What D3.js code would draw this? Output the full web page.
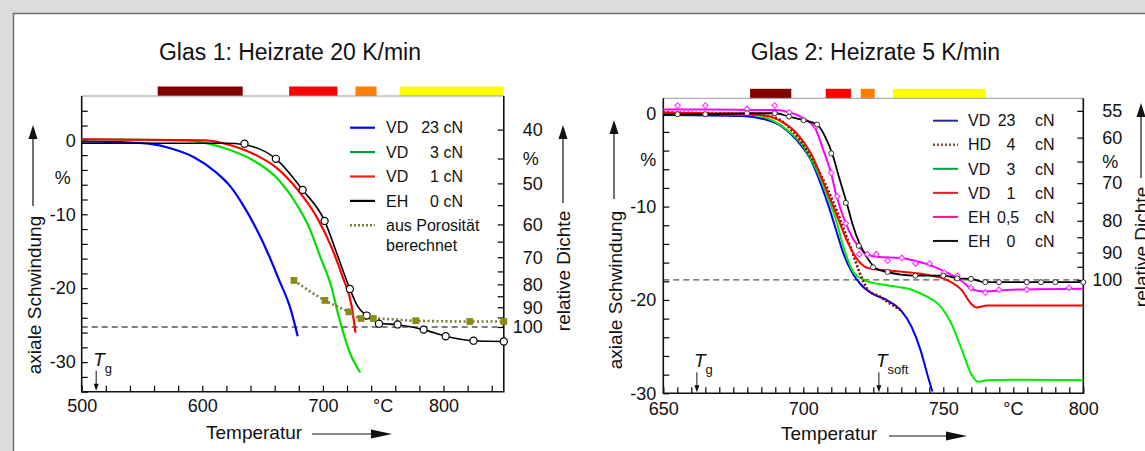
<!DOCTYPE html>
<html lang="de">
<head>
<meta charset="UTF-8">
<title>Glas 1 / Glas 2 - axiale Schwindung</title>
<script src="https://d3js.org/d3.v7.min.js"></script>
<style>
  body { margin: 0; background: #dcdcdc; }
  svg { display: block; }
  text { font-family: "Liberation Sans", Arial, sans-serif; fill: #111; }
  .tick line { stroke: #000; stroke-width: 1.2px; }
  .tick text { font-size: 18px; }
  .legend text { font-size: 16px; }
  .title { font-size: 23px; }
  .axis-title { font-size: 19px; }
</style>
</head>
<body>
<svg width="1145" height="451"></svg>
<script>
// ---------- Glas 1: Heizrate 20 K/min ----------
const g1Blue = [[500,-0.15],[540,-0.3],[555.6,-0.45],[574.2,-1.1],[592.7,-2.25],[611.2,-4.3],[623.6,-6.3],
  [632.8,-8.5],[645.2,-12.1],[654.5,-15.3],[663.7,-18.9],[673,-22.7],[679.1,-26.5]];
const g1Green = [[500,0.15],[586.5,0],[605,-0.45],[623.6,-1.35],[642.1,-2.7],[660.6,-4.9],[676,-8.1],
  [688.4,-11.7],[697.7,-15.7],[707,-19.8],[713.1,-23.8],[722.3,-28.7],[731,-31.4]];
const g1Red = [[500,0.15],[602,0],[623.6,-0.67],[642.1,-1.8],[660.6,-3.6],[679.1,-6.7],[694.6,-10.3],
  [707,-14.4],[716.2,-18.4],[723.9,-22.5],[727,-26.0]];
const g1Black = [[500,-0.4],[620,-0.4],[635,-0.6],[661,-2.5],[683.2,-6.7],[701.4,-10.9],[712,-15.5],
  [722.4,-20.1],[729,-22.5],[736.3,-23.7],[746.5,-24.7],[761.9,-24.95],[783.5,-25.6],[801.8,-26.5],
  [824.9,-27.1],[850,-27.2]];
const g1BlackPts = [[635,-0.45],[661,-2.5],[683.2,-6.7],[701.4,-10.9],[722.4,-20.1],[736.3,-23.7],
  [746.5,-24.8],[761.9,-24.9],[783.5,-25.6],[801.8,-26.5],[824.9,-27.1],[850,-27.2]];
const g1Poro = [[676,-18.95],[701.7,-21.65],[721.5,-23.2],[731.6,-24.1],[741.8,-24.1],[777,-24.4],
  [821.8,-24.5],[850,-24.5]];
const g1Dense100 = -25.25;                 // Schwindung bei 100 % Dichte
const g1Bars = [[563,633.5],[672,712],[727,744.5],[763.5,850]];
const g1Tg = 512;
const g1Legend = [['VD','23 cN'],['VD','3 cN'],['VD','1 cN'],['EH','0 cN']];
const g1PoroLegend = ['aus Porosität','berechnet'];
const g1XLabels = [500,600,700,800];
const g1YLabels = [0,-10,-20,-30];
const g1RhoTicks = [40,45,50,55,60,65,70,75,80,85,90,95,100];
const g1RhoLabels = ['40','%','50','','60','','70','','80','','90','','100'];

// ---------- Glas 2: Heizrate 5 K/min ----------
const g2Blue = [[650,-0.18],[678.3,-0.3],[687.3,-0.75],[692.4,-1.43],[697.6,-2.86],[702.7,-5],[706.6,-7.86],
  [709.1,-10],[711.7,-12.5],[714.3,-15],[717.5,-17.1],[720.7,-18.4],[724.5,-19.3],[729.7,-20],
  [734.8,-21.1],[738.7,-22.9],[741.9,-25.4],[744.5,-28.2],[746.1,-29.8]];
const g2HD = [[650,0.07],[682,-0.1],[690.5,-0.54],[696.3,-1.96],[702.7,-4.64],[710.4,-9.29],[716.8,-14.3],
  [720.7,-17.5],[723.3,-19],[727.1,-19.6],[731,-20.4],[734.8,-21.1]];
const g2Green = [[650,0],[682.1,-0.18],[688.6,-0.71],[695,-1.96],[700.1,-3.57],[705.3,-6.43],[709.1,-9.29],
  [711.7,-11.43],[714.3,-14.3],[718.1,-17.1],[722,-17.9],[727.1,-18.3],[733.5,-18.6],[738.7,-18.9],
  [743.8,-19.6],[749,-20.7],[752.8,-22.5],[756.7,-25.4],[759.9,-27.9],[762.5,-28.75],[765.7,-28.6],
  [774.7,-28.55],[800,-28.6]];
const g2Red = [[650,0.07],[684.7,-0.18],[691.1,-0.71],[697.6,-2.14],[702.7,-4.29],[707.8,-7.86],[711.7,-10.7],
  [715.5,-13.6],[719.4,-15.7],[723.3,-16.6],[728.4,-16.8],[736.1,-17],[743.8,-17.3],[751.5,-17.9],
  [756.7,-19],[759.9,-20.4],[761.8,-20.8],[765.7,-20.6],[800,-20.6]];
const g2Magenta = [[650,0.4],[689.8,0.35],[695,0.1],[700,-0.54],[704.2,-1.6],[707.1,-3.9],[709.9,-6.4],
  [711.9,-8.9],[714.9,-11.6],[718.1,-13.6],[720.7,-14.6],[723.3,-15.2],[727.1,-15.4],[734.8,-15.5],
  [741.2,-15.9],[746.4,-16.4],[751.5,-17.1],[756.7,-18.0],[760.5,-18.9],[764.4,-19.1],[774.7,-18.9],
  [800,-18.8]];
const g2MagentaPts = [[655.1,0.82],[665,0.82],[679.9,0.46],[689.8,0.82],[695,0.1],[704.6,-1.4],[710,-6.4],
  [712.1,-8.9],[715.2,-11.8],[720,-15.1],[722.9,-15.1],[726.1,-15.1],[730.1,-15.8],[735.2,-15.5],
  [740.1,-16.1],[745.1,-16.1],[750.3,-17.1],[755,-17.4],[759.9,-18.7],[765,-19.2],[769.9,-18.9],
  [779.8,-18.9],[794.9,-18.7]];
const g2Black = [[650,-0.15],[665,-0.1],[680,0],[690,0],[694.9,-0.36],[700.1,-0.75],[704.9,-1.2],
  [707.8,-2.5],[710.4,-4.4],[713,-7.1],[715.5,-9.6],[717.5,-11.8],[720,-13.9],[723.3,-15.7],
  [725.8,-16.6],[729.7,-17.0],[740,-17.4],[750.3,-17.4],[755.4,-17.7],[759.9,-17.75],[765,-18.1],[800,-18.1]];
const g2BlackPts = [[655.1,-0.11],[665,-0.11],[679.9,0],[689.8,0],[694.9,-0.36],[700.1,-0.75],[704.9,-1.2],
  [710,-4.3],[715.2,-9.6],[719.8,-14.2],[724.9,-16.5],[730.1,-17.0],[740,-17.4],[750,-17.4],[755,-17.7],
  [759.9,-17.75],[765,-18.1],[769.9,-18.1],[779.8,-18.1],[784.9,-18.1],[790,-18.1],[800,-18.1]];
const g2Dense100 = -17.86;
const g2Bars = [[681,695.7],[708,717],[720.5,725.5],[732,765.2]];
const g2Tg = 662;
const g2Tsoft = 727;
const g2Legend = [['VD','23'],['HD','4'],['VD','3'],['VD','1'],['EH','0,5'],['EH','0']];
const g2XLabels = [650,700,750,800];
const g2YLabels = [0,-10,-20,-30];
const g2RhoTicks = [55,60,65,70,75,80,85,90,95,100];
const g2RhoLabels = ['55','60','%','70','','80','','90','','100'];

// ---------- styles ----------
const barColors = ['#800000','#ff0000','#ff8000','#ffff00'];

const svg = d3.select('svg');
svg.append('rect').attr('width', 1145).attr('height', 451).attr('fill', '#dcdcdc');
svg.append('rect').attr('x', 13.5).attr('y', 13.5).attr('width', 1200).attr('height', 500)
  .attr('fill', '#fff').attr('stroke', '#6e6e6e').attr('stroke-width', 1.5);

// Dichte -> Schwindung (isotrope Schwindung, 100 % Dichte bei s100)
function rhoToS(rho, s100) {
  const rho0 = 100 * Math.pow(1 + s100 / 100, 3);
  return 100 * (Math.cbrt(rho0 / rho) - 1);
}

function arrowUp(g, x, yTop, yBottom) {
  g.append('line').attr('x1', x).attr('x2', x).attr('y1', yTop + 10).attr('y2', yBottom)
    .attr('stroke', '#111').attr('stroke-width', 1.2);
  g.append('path').attr('d', `M${x},${yTop}L${x - 4.5},${yTop + 14}L${x + 4.5},${yTop + 14}Z`).attr('fill', '#111');
}

function arrowRight(g, x1, x2, y) {
  g.append('line').attr('x1', x1).attr('x2', x2 - 10).attr('y1', y).attr('y2', y)
    .attr('stroke', '#111').attr('stroke-width', 1.2);
  g.append('path').attr('d', `M${x2},${y}L${x2 - 21},${y - 4.5}L${x2 - 21},${y + 4.5}Z`).attr('fill', '#111');
}

function tempMark(g, x, yAxis, sub) {
  const t = g.append('text').attr('x', x - 3).attr('y', yAxis - 26).attr('font-size', 19);
  t.append('tspan').attr('font-style', 'italic').text('T');
  t.append('tspan').attr('dy', 7).attr('font-size', 13).text(sub);
  g.append('line').attr('x1', x).attr('x2', x).attr('y1', yAxis - 21).attr('y2', yAxis - 5)
    .attr('stroke', '#111').attr('stroke-width', 1);
  g.append('path').attr('d', `M${x},${yAxis - 1}L${x - 2.5},${yAxis - 8}L${x + 2.5},${yAxis - 8}Z`).attr('fill', '#111');
}

function drawPanel(p) {
  const x = d3.scaleLinear().domain(p.xDomain).range([p.x0, p.x1]);
  const y = d3.scaleLinear().domain(p.yDomain).range([p.y1, p.y0]);
  const g = svg.append('g');

  // title
  g.append('text').attr('class', 'title').attr('x', p.titleX).attr('y', 59.5)
    .attr('text-anchor', 'middle').text(p.title);

  // Farbbalken
  g.selectAll('rect.bar').data(p.bars).join('rect').attr('class', 'bar')
    .attr('x', d => x(d[0])).attr('width', d => x(d[1]) - x(d[0]))
    .attr('y', p.y0 - 9.5).attr('height', 9.5)
    .attr('fill', (d, i) => barColors[i]);

  // 100 % Dichte
  g.append('line').attr('x1', p.x0).attr('x2', p.x1)
    .attr('y1', y(p.dense100)).attr('y2', y(p.dense100))
    .attr('stroke', '#555').attr('stroke-width', 1.3).attr('stroke-dasharray', '6,4');

  // axes
  const axL = d3.axisLeft(y).tickValues(d3.range(p.yDomain[0], p.yDomain[1], 2))
    .tickSize(-6).tickSizeOuter(0).tickPadding(p.yPad)
    .tickFormat(d => p.yLabels.includes(d) ? String(d) : '');
  g.append('g').attr('transform', `translate(${p.x0},0)`).call(axL).call(a => a.select('.domain').remove());

  const axB = d3.axisBottom(x).tickValues(d3.range(p.xDomain[0], p.xDomain[1] + 0.01, p.xStep))
    .tickSize(-6).tickSizeOuter(0).tickPadding(p.xPad)
    .tickFormat(d => p.xLabels.includes(d) ? String(d) : '');
  g.append('g').attr('transform', `translate(0,${p.y1})`).call(axB).call(a => a.select('.domain').remove());
  g.append('text').attr('x', x(p.degreeAt)).attr('y', p.y1 + p.xPad).attr('dy', '0.71em')
    .attr('text-anchor', 'middle').attr('font-size', 18).text('°C');

  const rhoS = p.rhoTicks.map(r => rhoToS(r, p.dense100));
  const axR = d3.axisRight(y).tickValues(rhoS).tickSize(-6).tickSizeOuter(0)
    .tickFormat((d, i) => p.rhoLabels[i]);
  g.append('g').attr('transform', `translate(${p.x1},0)`).call(axR)
    .call(a => a.select('.domain').remove())
    .call(a => a.selectAll('text').attr('text-anchor', 'end')
      .attr('x', (d, i) => p.rhoLabels[i] === '%' ? 35 : 39));

  // "%" neben linker Achse
  g.append('text').attr('x', p.x0 - p.pctOff).attr('y', y(-5)).attr('dy', '0.35em')
    .attr('text-anchor', 'end').attr('font-size', 18).text('%');

  // frame
  g.append('line').attr('x1', p.x0).attr('x2', p.x1).attr('y1', p.y0).attr('y2', p.y0)
    .attr('stroke', '#999').attr('stroke-width', 1);
  g.append('path').attr('d', `M${p.x0},${p.y0}V${p.y1}H${p.x1}V${p.y0}`)
    .attr('fill', 'none').attr('stroke', '#111').attr('stroke-width', 1.6);

  // curves
  const line = d3.line().x(d => x(d[0])).y(d => y(d[1])).curve(d3.curveMonotoneX);
  p.series.forEach(s => {
    g.append('path').datum(s.data).attr('d', line).attr('fill', 'none')
      .attr('stroke', s.color).attr('stroke-width', s.width)
      .attr('stroke-dasharray', s.dash || null);
  });

  // markers
  p.markers.forEach(m => {
    const sym = d3.symbol().type(m.type).size(m.size);
    g.append('g').selectAll('path').data(m.data).join('path')
      .attr('transform', d => `translate(${x(d[0])},${y(d[1])}) rotate(${m.rotate || 0})`)
      .attr('d', sym).attr('fill', m.fill).attr('stroke', m.stroke).attr('stroke-width', m.sw);
  });

  // T-marks
  p.tMarks.forEach(t => tempMark(g, x(t[0]), p.y1, t[1]));

  // axis titles
  g.append('text').attr('class', 'axis-title')
    .attr('transform', `translate(${p.yTitleX},${p.yTitleY}) rotate(-90)`)
    .attr('text-anchor', 'middle').attr('dy', '0.35em').text('axiale Schwindung');
  arrowUp(g, p.yTitleX - 1, p.yArrow[0], p.yArrow[1]);

  g.append('text').attr('class', 'axis-title')
    .attr('transform', `translate(${p.rTitleX},${p.rTitleY}) rotate(-90)`)
    .attr('text-anchor', 'middle').attr('dy', '0.35em').text('relative Dichte');
  arrowUp(g, p.rTitleX, p.rArrow[0], p.rArrow[1]);

  g.append('text').attr('class', 'axis-title').attr('x', p.xTitle[0]).attr('y', p.xTitle[1]).text('Temperatur');
  arrowRight(g, p.xArrow[0], p.xArrow[1], p.xArrow[2]);

  p.legend(g);
  return g;
}

// ---------- Panel 1 ----------
drawPanel({
  title: 'Glas 1: Heizrate 20 K/min', titleX: 290,
  x0: 81.7, x1: 503.8, y0: 96, y1: 391.7,
  xDomain: [500, 850], yDomain: [-34, 6], xStep: 20, xPad: 8, yPad: 6,
  xLabels: g1XLabels, yLabels: g1YLabels, degreeAt: 750, pctOff: 11,
  rhoTicks: g1RhoTicks, rhoLabels: g1RhoLabels, dense100: g1Dense100,
  bars: g1Bars,
  series: [
    { data: g1Blue, color: '#0000ff', width: 2.2 },
    { data: g1Green, color: '#00e000', width: 2.2 },
    { data: g1Red, color: '#ff0000', width: 2.2 },
    { data: g1Black, color: '#000', width: 1.6 },
    { data: g1Poro, color: '#7c7c3c', width: 2.6, dash: '2,2.5' }
  ],
  markers: [
    { data: g1BlackPts, type: d3.symbolCircle, size: 40, fill: '#fff', stroke: '#000', sw: 1.2 },
    { data: g1Poro, type: d3.symbolSquare, size: 46, fill: '#8a8a14', stroke: 'none', sw: 0 }
  ],
  tMarks: [[g1Tg, 'g']],
  yTitleX: 34, yTitleY: 295, yArrow: [125, 206],
  rTitleX: 563, rTitleY: 271, rArrow: [125, 203],
  xTitle: [206, 439], xArrow: [312, 392, 434],
  legend: g => {
    const lg = g.append('g').attr('class', 'legend');
    const cols = ['#0000ff', '#00a040', '#ee2020', '#000'];
    const rowY = i => 127.7 + i * 24.4;
    g1Legend.forEach((d, i) => {
      lg.append('line').attr('x1', 350).attr('x2', 375).attr('y1', rowY(i)).attr('y2', rowY(i))
        .attr('stroke', cols[i]).attr('stroke-width', 2.2);
      lg.append('text').attr('x', 386).attr('y', rowY(i) + 5.7).text(d[0]);
      lg.append('text').attr('x', 463).attr('y', rowY(i) + 5.7).attr('text-anchor', 'end').text(d[1]);
    });
    lg.append('line').attr('x1', 350).attr('x2', 375).attr('y1', rowY(4)).attr('y2', rowY(4))
      .attr('stroke', '#7c7c3c').attr('stroke-width', 2.4).attr('stroke-dasharray', '2,2');
    lg.append('text').attr('x', 386).attr('y', rowY(4) + 5.7).text(g1PoroLegend[0]);
    lg.append('text').attr('x', 386).attr('y', rowY(4) + 26).text(g1PoroLegend[1]);
  }
});

// ---------- Panel 2 ----------
drawPanel({
  title: 'Glas 2: Heizrate 5 K/min', titleX: 875.5,
  x0: 663.3, x1: 1083.3, y0: 98.3, y1: 393.3,
  xDomain: [650, 800], yDomain: [-30, 1.6], xStep: 5, xPad: 9, yPad: 7,
  xLabels: g2XLabels, yLabels: g2YLabels, degreeAt: 775, pctOff: 7,
  rhoTicks: g2RhoTicks, rhoLabels: g2RhoLabels, dense100: g2Dense100,
  bars: g2Bars,
  series: [
    { data: g2Blue, color: '#0000ff', width: 2 },
    { data: g2Green, color: '#00ee00', width: 2 },
    { data: g2HD, color: '#8b0000', width: 2.6, dash: '2,2' },
    { data: g2Red, color: '#ff0000', width: 2 },
    { data: g2Magenta, color: '#ff00ff', width: 2 },
    { data: g2Black, color: '#000', width: 1.8 }
  ],
  markers: [
    { data: g2MagentaPts, type: d3.symbolSquare, size: 16, fill: '#fff', stroke: '#ff33ff', sw: 1.1, rotate: 45 },
    { data: g2BlackPts, type: d3.symbolCircle, size: 20, fill: '#fff', stroke: '#333', sw: 1 }
  ],
  tMarks: [[g2Tg, 'g'], [g2Tsoft, 'soft']],
  yTitleX: 615, yTitleY: 290, yArrow: [120, 199],
  rTitleX: 1141, rTitleY: 247, rArrow: [103, 178],
  xTitle: [781, 440], xArrow: [889, 967, 436],
  legend: g => {
    const lg = g.append('g').attr('class', 'legend');
    const cols = ['#2b2b8c', '#8b4a40', '#00a040', '#e02020', '#e8198c', '#111'];
    const rowY = i => 120.7 + i * 24.05;
    g2Legend.forEach((d, i) => {
      lg.append('line').attr('x1', 933).attr('x2', 958).attr('y1', rowY(i)).attr('y2', rowY(i))
        .attr('stroke', cols[i]).attr('stroke-width', i === 1 ? 2.4 : 2)
        .attr('stroke-dasharray', i === 1 ? '2,2' : null);
      lg.append('text').attr('x', 968).attr('y', rowY(i) + 5.7).text(d[0]);
      const wide = d[1].includes(',');
      lg.append('text').attr('x', wide ? 997 : 1015.5).attr('y', rowY(i) + 5.7)
        .attr('text-anchor', wide ? 'start' : 'end').text(d[1]);
      lg.append('text').attr('x', 1035).attr('y', rowY(i) + 5.7).text('cN');
    });
  }
});
</script>
</body>
</html>
